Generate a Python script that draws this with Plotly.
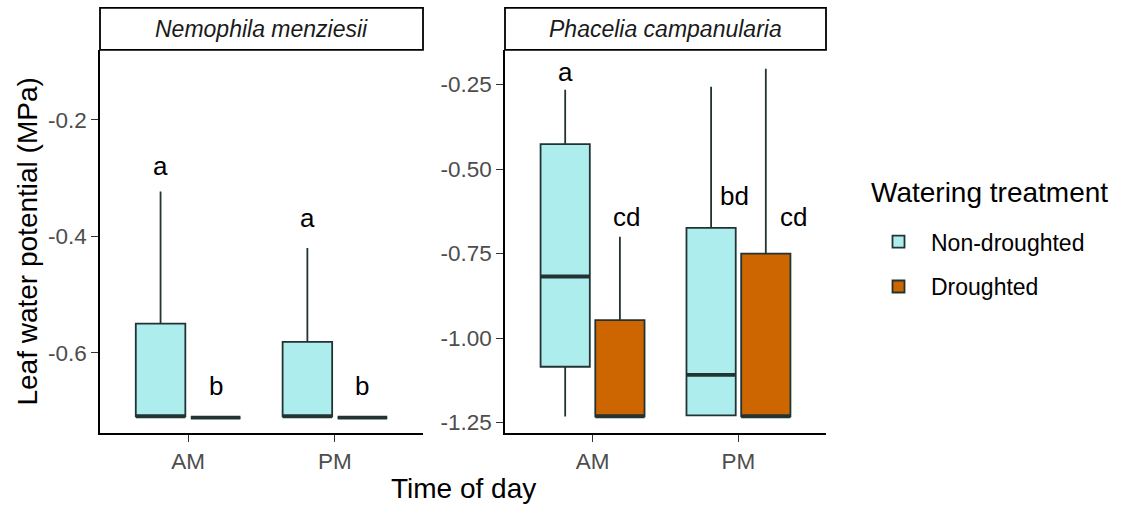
import plotly.graph_objects as go

# ---------------- data ----------------
species = ["Nemophila menziesii", "Phacelia campanularia"]
times = ["AM", "PM"]
treatments = ["Non-droughted", "Droughted"]
legend_title = "Watering treatment"

# Nemophila menziesii (per time: AM, PM)
nem_nd_lower = [-0.709, -0.709]
nem_nd_q1 = [-0.709, -0.709]
nem_nd_median = [-0.709, -0.709]
nem_nd_q3 = [-0.550, -0.581]
nem_nd_upper = [-0.323, -0.420]

nem_d_lower = [-0.711, -0.711]
nem_d_q1 = [-0.711, -0.711]
nem_d_median = [-0.711, -0.711]
nem_d_q3 = [-0.711, -0.711]
nem_d_upper = [-0.711, -0.711]

# Phacelia campanularia
pha_nd_lower = [-1.232, -1.229]
pha_nd_q1 = [-1.085, -1.229]
pha_nd_median = [-0.818, -1.109]
pha_nd_q3 = [-0.426, -0.674]
pha_nd_upper = [-0.265, -0.256]

pha_d_lower = [-1.232, -1.232]
pha_d_q1 = [-1.232, -1.232]
pha_d_median = [-1.232, -1.232]
pha_d_q3 = [-0.947, -0.750]
pha_d_upper = [-0.700, -0.203]

# significance letters: (text, x in category units, y value)
nem_letters = ["a", "b", "a", "b"]
nem_letter_x = [0.8125, 1.1875, 1.8125, 2.1875]
nem_letter_y = [-0.280, -0.656, -0.368, -0.656]

pha_letters = ["a", "cd", "bd", "cd"]
pha_letter_x = [0.8125, 1.235, 1.975, 2.38]
pha_letter_y = [-0.212, -0.641, -0.579, -0.641]

nem_ticks = [-0.6, -0.4, -0.2]
nem_ticktext = ["-0.6", "-0.4", "-0.2"]
pha_ticks = [-1.25, -1.00, -0.75, -0.50, -0.25]
pha_ticktext = ["-1.25", "-1.00", "-0.75", "-0.50", "-0.25"]

# ---------------- style ----------------
W, H = 1128, 510
FILL = {"Non-droughted": "#AEEDED", "Droughted": "#CD6600"}
EDGE = "#223333"
FONT = "Liberation Sans, Arial, sans-serif"
DODGE = 0.1875
BOXW = 0.3375

fig = go.Figure()

panels = [
    ("x", "y", {
        "Non-droughted": (nem_nd_lower, nem_nd_q1, nem_nd_median, nem_nd_q3, nem_nd_upper),
        "Droughted": (nem_d_lower, nem_d_q1, nem_d_median, nem_d_q3, nem_d_upper),
    }),
    ("x2", "y2", {
        "Non-droughted": (pha_nd_lower, pha_nd_q1, pha_nd_median, pha_nd_q3, pha_nd_upper),
        "Droughted": (pha_d_lower, pha_d_q1, pha_d_median, pha_d_q3, pha_d_upper),
    }),
]

for pi, (xa, ya, stats) in enumerate(panels):
    for ti, tr in enumerate(treatments):
        lo, q1, med, q3, up = stats[tr]
        off = -DODGE if ti == 0 else DODGE
        xs = [i + 1 + off for i in range(len(times))]
        fig.add_trace(go.Box(
            x=xs, lowerfence=lo, q1=q1, median=med, q3=q3, upperfence=up,
            width=BOXW, whiskerwidth=0, boxpoints=False,
            fillcolor=FILL[tr], line=dict(color=EDGE, width=1.8),
            name=tr, legendgroup=tr, showlegend=(pi == 0),
            xaxis=xa, yaxis=ya, hoverinfo="skip",
        ))
        # thick median lines (ggplot fatten)
        for xc, m in zip(xs, med):
            fig.add_trace(go.Scatter(
                x=[xc - BOXW / 2, xc + BOXW / 2], y=[m, m], mode="lines",
                line=dict(color=EDGE, width=3.8), showlegend=False,
                hoverinfo="skip", xaxis=xa, yaxis=ya,
            ))

# letters
for xa, ya, labs, lx, ly in [("x", "y", nem_letters, nem_letter_x, nem_letter_y),
                             ("x2", "y2", pha_letters, pha_letter_x, pha_letter_y)]:
    for t, xv, yv in zip(labs, lx, ly):
        fig.add_annotation(x=xv, y=yv, xref=xa, yref=ya, text=t, showarrow=False,
                           xanchor="center", yanchor="middle",
                           font=dict(size=26, color="black", family=FONT))

y_bot = 1 - 435 / H
y_top = 1 - 50 / H
strip_top = 1 - 8 / H
x1d = [100 / W, 423 / W]
x2d = [505 / W, 826 / W]

axis_common = dict(showline=True, linecolor="black", linewidth=1.5, ticks="outside",
                   ticklen=7, tickwidth=1.3, tickcolor="#333333", showgrid=False,
                   zeroline=False, tickfont=dict(size=22.5, color="#4D4D4D", family=FONT))

fig.update_layout(
    width=W, height=H, margin=dict(l=0, r=0, t=0, b=0),
    paper_bgcolor="white", plot_bgcolor="white",
    font=dict(family=FONT),
    xaxis=dict(domain=x1d, range=[0.4, 2.6], tickvals=[1, 2], ticktext=times,
               anchor="y", **axis_common),
    yaxis=dict(domain=[y_bot, y_top], range=[-0.738, -0.080], tickvals=nem_ticks,
               ticktext=nem_ticktext, anchor="x", **axis_common),
    xaxis2=dict(domain=x2d, range=[0.4, 2.6], tickvals=[1, 2], ticktext=times,
                anchor="y2", **axis_common),
    yaxis2=dict(domain=[y_bot, y_top], range=[-1.282, -0.147], tickvals=pha_ticks,
                ticktext=pha_ticktext, anchor="x2", **axis_common),
    legend=dict(x=866 / W, y=1 - 221 / H, xanchor="left", yanchor="top",
                font=dict(size=23, color="black", family=FONT), itemwidth=55,
                tracegroupgap=12, bgcolor="rgba(0,0,0,0)"),
    showlegend=True,
)

# legend title
fig.add_annotation(x=869 / W, y=1 - 193 / H, xref="paper", yref="paper",
                   text=legend_title, showarrow=False, xanchor="left", yanchor="middle",
                   font=dict(size=28, color="black", family=FONT))

# strips
for dom, name in [(x1d, species[0]), (x2d, species[1])]:
    fig.add_shape(type="rect", xref="paper", yref="paper", x0=dom[0], x1=dom[1],
                  y0=y_top, y1=strip_top, line=dict(color="black", width=1.8),
                  fillcolor="white")
    fig.add_annotation(x=(dom[0] + dom[1]) / 2, y=(y_top + strip_top) / 2,
                       xref="paper", yref="paper", text="<i>" + name + "</i>",
                       xanchor="center", yanchor="middle",
                       showarrow=False, font=dict(size=23, color="#1A1A1A", family=FONT))

# axis titles
fig.add_annotation(x=(x1d[0] + x2d[1]) / 2, y=1 - 490 / H, xref="paper", yref="paper",
                   text="Time of day", showarrow=False, xanchor="center", yanchor="middle",
                   font=dict(size=28, color="black", family=FONT))
fig.add_annotation(x=28 / W, y=(y_bot + y_top) / 2, xref="paper", yref="paper",
                   text="Leaf water potential (MPa)", textangle=-90, showarrow=False,
                   xanchor="center", yanchor="middle",
                   font=dict(size=28, color="black", family=FONT))

fig.write_html("out.html")
